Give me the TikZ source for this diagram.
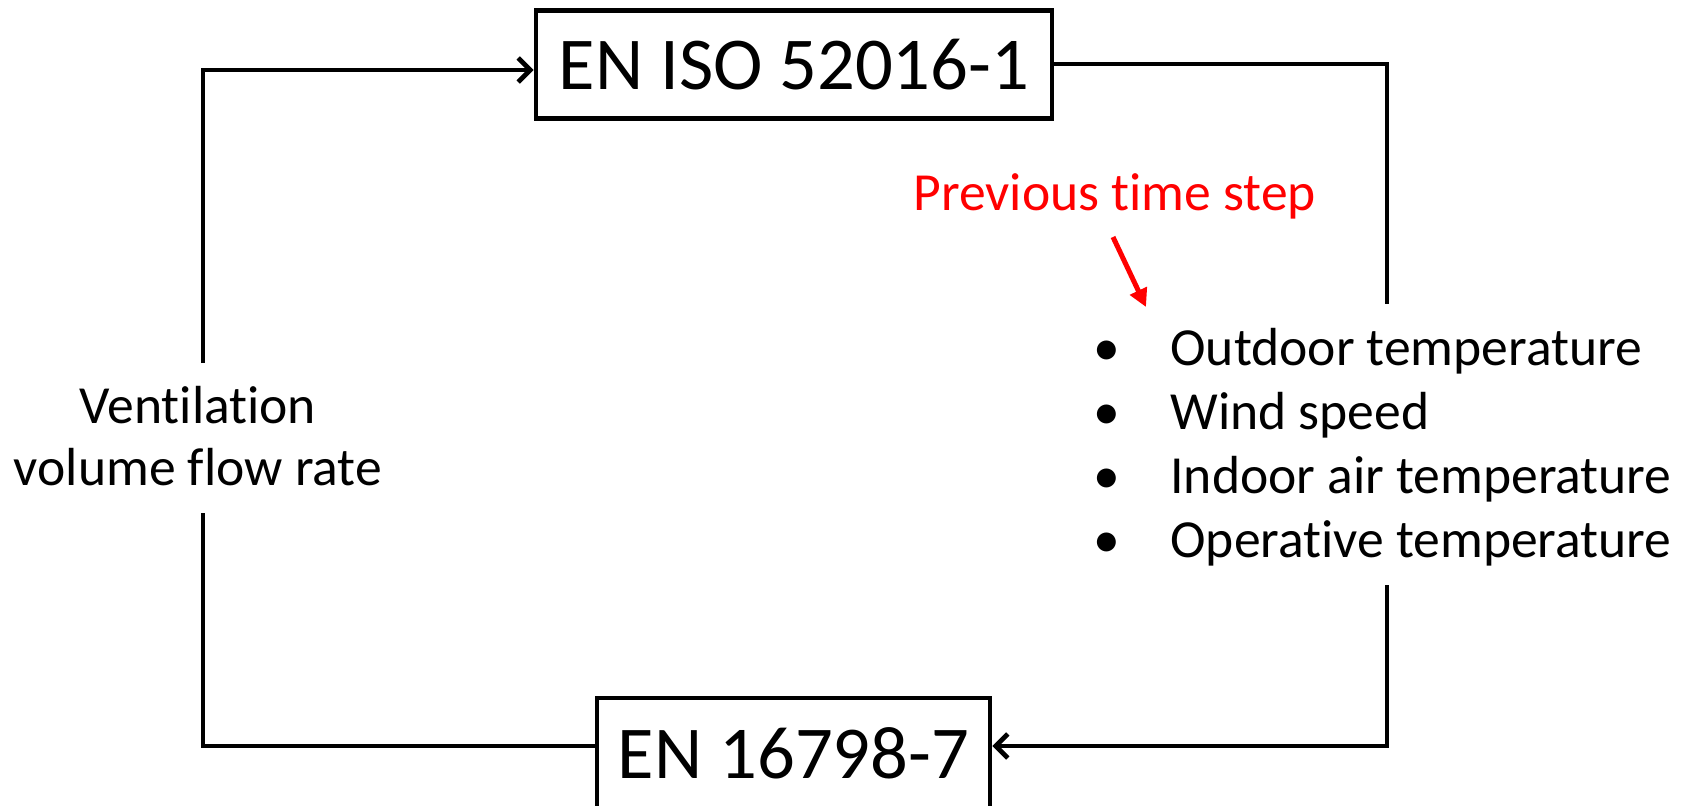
\documentclass[tikz,border=0pt]{standalone}
\usepackage{fontspec}
\setmainfont{Carlito}[RawFeature=-liga]
\usetikzlibrary{arrows.meta}
\definecolor{pred}{RGB}{255,0,0}
\begin{document}
\begin{tikzpicture}[x=0.5pt,y=-0.5pt,
  conn/.style={line width=2.4pt, line join=miter},
  openarr/.style={conn,-{Straight Barb[length=6pt,width=12pt]}},
  redarr/.style={line width=2.5pt, pred, -{Triangle[length=9pt,width=9pt]}},
  stdbox/.style={draw, line width=2.4pt, inner sep=0pt, font=\fontsize{37.3pt}{44pt}\selectfont},
  lbl/.style={inner sep=0pt, font=\fontsize{26.8pt}{32pt}\selectfont},
]
\clip (0,0) rectangle (1683,805);
% boxes
\node[stdbox, minimum width=258pt, minimum height=54pt] (top) at (794,64.5) {EN ISO 52016-1};
\node[stdbox, minimum width=196.5pt, minimum height=55.5pt] (bot) at (793.5,753.5) {EN 16798-7};
% left label
\node[lbl, anchor=base] (v1) at (198,423) {Ventilation};
\node[lbl, anchor=base] (v2) at (198,485) {volume flow rate};
% red label
\node[lbl, anchor=base west, text=pred] (prev) at (913,210) {Previous time step};
% bullet list
\node[lbl, anchor=base] (b1) at (1107,365) {\textbullet};
\node[lbl, anchor=base] (b2) at (1107,429) {\textbullet};
\node[lbl, anchor=base] (b3) at (1107,493) {\textbullet};
\node[lbl, anchor=base] (b4) at (1107,557) {\textbullet};
\node[lbl, anchor=base west] (t1) at (1170,365) {Outdoor temperature};
\node[lbl, anchor=base west] (t2) at (1170,429) {Wind speed};
\node[lbl, anchor=base west] (t3) at (1170,493) {Indoor air temperature};
\node[lbl, anchor=base west] (t4) at (1170,557) {Operative temperature};
% free ends of connectors
\coordinate (lup) at (203,363);
\coordinate (ldown) at (203,513);
\coordinate (rup) at (1387,304);
\coordinate (rdown) at (1387,585);
\coordinate (rs) at (1113,237);
\coordinate (re) at (1146,307);
% connectors
\draw[openarr] (lup) |- ([yshift=-2.75pt]top.west);
\draw[conn] ([yshift=0.25pt]top.east) -| (rup);
\draw[openarr] (rdown) |- ([yshift=3.75pt]bot.east);
\draw[conn] (ldown) |- ([yshift=3.75pt]bot.west);
\draw[redarr] (rs) -- (re);
\end{tikzpicture}
\end{document}
